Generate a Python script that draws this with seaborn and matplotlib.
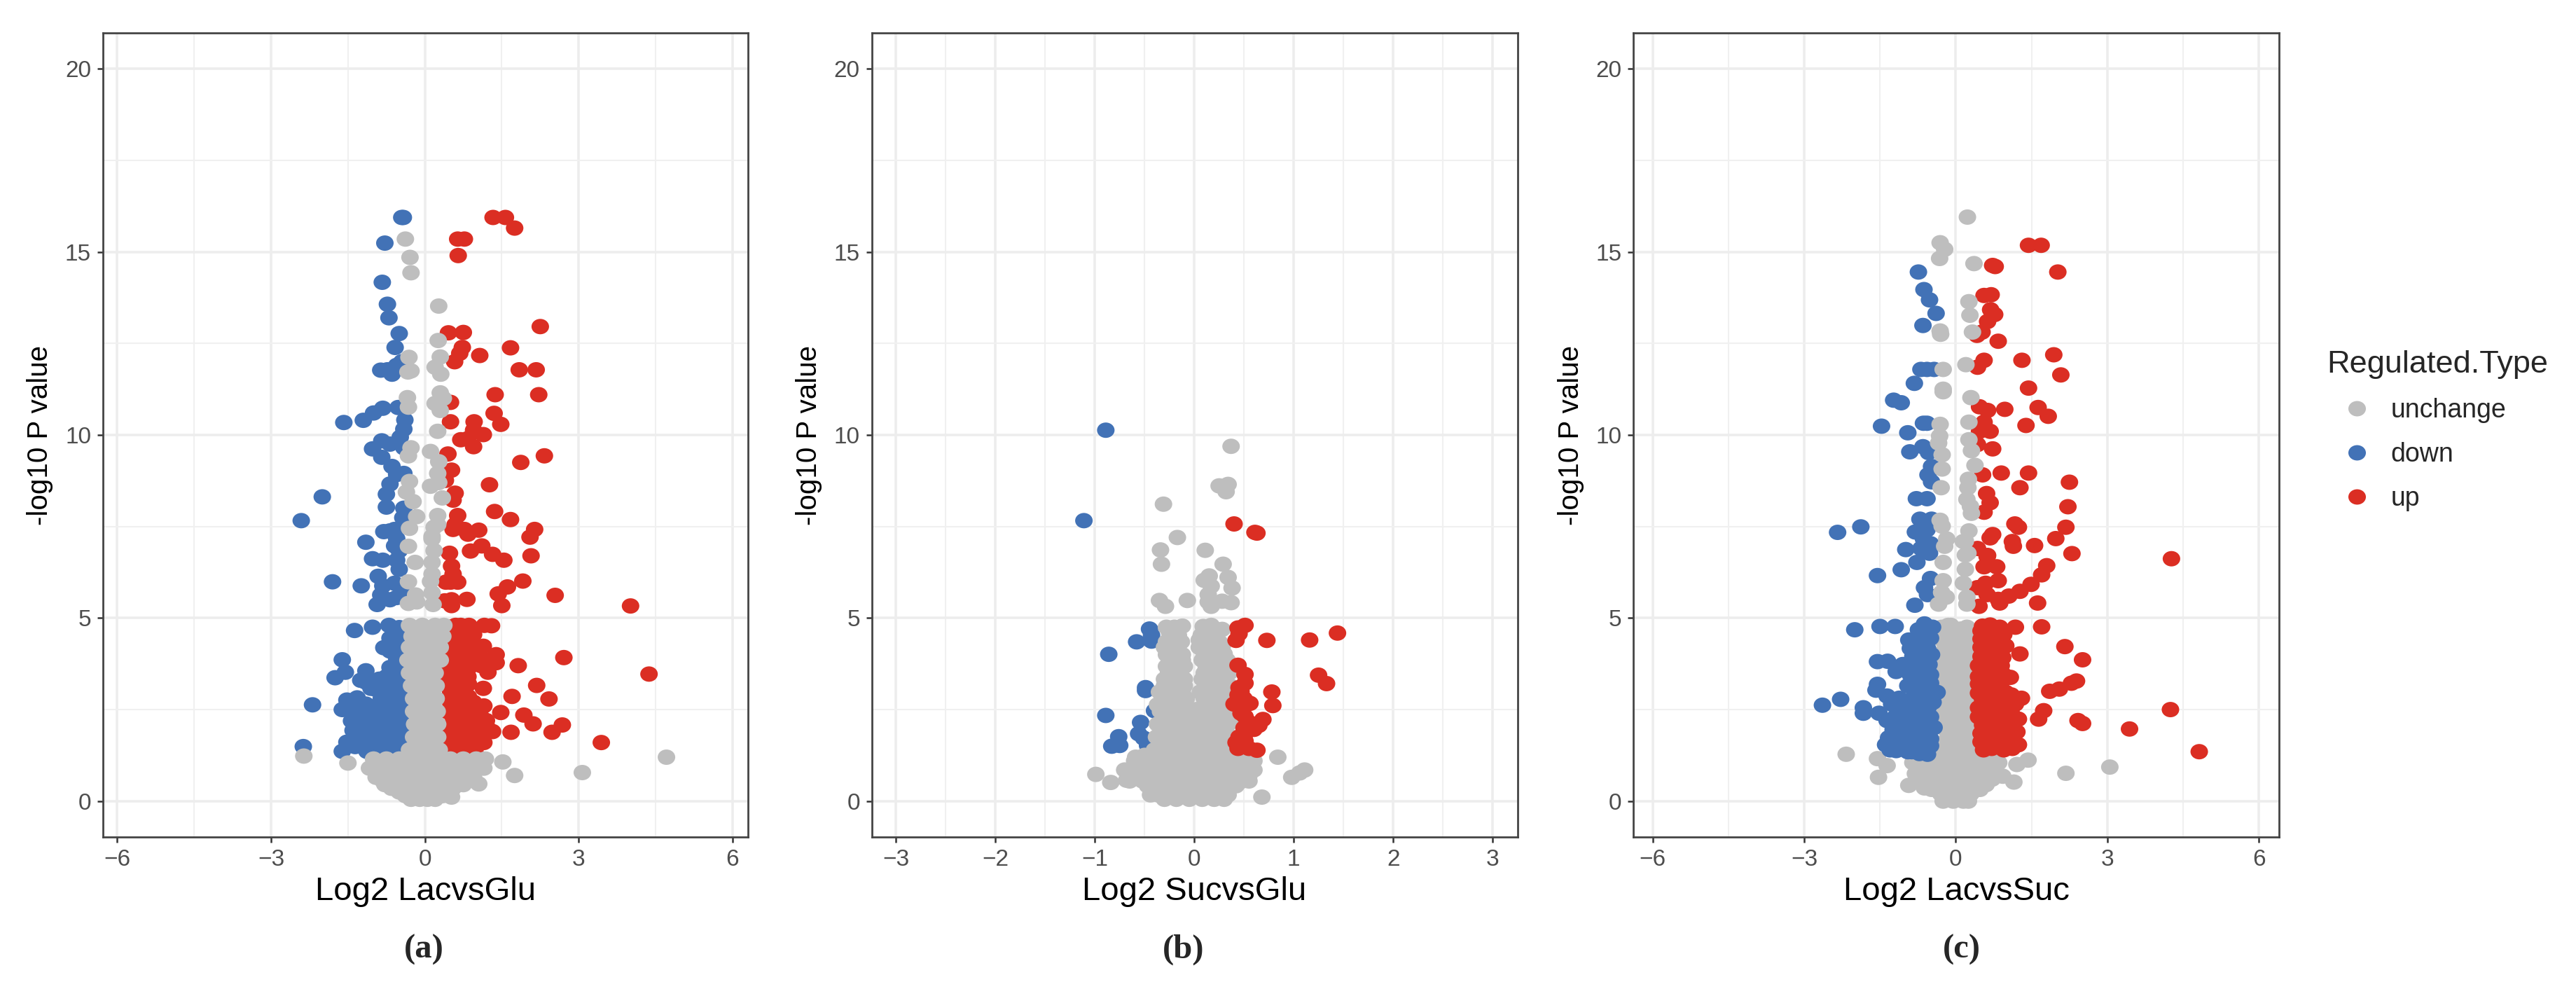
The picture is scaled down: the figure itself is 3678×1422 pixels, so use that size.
import matplotlib
matplotlib.use("Agg")
import matplotlib.pyplot as plt
import pandas as pd
import seaborn as sns
from matplotlib.markers import MarkerStyle
from matplotlib.transforms import Affine2D

# (log2 fold change, -log10 p), one list per group and panel
a_down = [(-.42,15.94),(-.45,15.94),(-.78,15.24),(-.83,14.17),(-.73,13.57),(-.70,13.2),(-.5,12.77),(-.58,12.39),
    (-.86,11.77),(-.73,11.78),(-.64,11.66),(-.55,11.9),(-.45,12.0),(-1.58,10.34),(-1.2,10.4),(-1.0,10.6),(-.82,10.73),
    (-.52,10.75),(-.39,10.41),(-.41,10.16),(-.48,9.94),(-.84,9.84),(-.68,9.75),(-1.02,9.62),(-.41,9.65),(-.84,9.39),
    (-.64,9.14),(-.41,8.95),(-.55,8.92),(-.68,8.66),(-.75,8.38),(-.75,8.03),(-.41,8.0),(-.43,7.74),(-.8,7.36),(-.59,7.42),
    (-.55,7.17),(-1.15,7.07),(-2.0,8.31),(-2.41,7.66),(-.68,7.38),(-.59,6.97),(-1.02,6.62),(-.82,6.58),(-.55,6.58),
    (-.5,6.84),(-.91,6.14),(-.5,6.33),(-1.8,5.99),(-1.24,5.88),(-.82,5.88),(-.59,5.95),(-.86,5.63),(-.45,5.69),(-.93,5.37),
    (-.68,5.5),(-.55,5.56),(-1.37,4.66),(-1.02,4.75),(-.7,4.8),(-.5,4.74),(-.55,4.54),(-.8,4.19),(-.68,4.1),(-.59,4.35),
    (-1.61,3.86),(-1.55,3.52),(-1.75,3.37),(-1.15,3.56),(-1.25,3.3),(-1.0,3.27),(-.89,3.33),(-.68,3.65),(-.5,3.49),
    (-.55,3.33),(-.41,3.05),(-1.05,3.08),(-.73,3.08),(-.57,2.95),(-2.19,2.63),(-1.52,2.76),(-1.61,2.5),(-1.32,2.82),
    (-1.27,2.5),(-1.0,2.5),(-.77,2.57),(-.45,2.5),(-1.43,2.19),(-1.2,2.25),(-.86,2.25),(-.59,2.31),(-.43,2.12),(-1.4,1.93),
    (-1.09,2.0),(-.73,1.93),(-.43,1.84),(-1.52,1.61),(-1.23,1.68),(-.95,1.68),(-.68,1.61),(-.5,1.61),(-1.61,1.36),
    (-1.13,1.36),(-1.36,1.49),(-.82,1.45),(-2.37,1.49),
    (-.68,4.45),(-.6,4.7),(-.48,4.45),(-.5,4.15),(-.55,3.9),(-.48,3.7),(-.6,3.55),(-.75,3.4),(-.6,3.15),(-.48,3.25),(-.85,3.1),
    (-.95,3.05),(-1.15,3.25),(-.85,2.8),(-.62,2.75),(-.48,2.75),(-1.45,2.5),(-1.15,2.65),(-1.15,2.4),(-.9,2.5),(-.6,2.55),
    (-1.3,2.2),(-1.05,2.25),(-.73,2.3),(-.5,2.25),(-1.3,1.95),(-1.2,2.0),(-.95,2.0),(-.85,1.95),(-.6,2.0),(-.5,1.95),
    (-1.35,1.75),(-1.1,1.8),(-.85,1.7),(-.6,1.75),(-1.2,1.5),(-1.0,1.45),(-.9,1.5),(-.6,1.4),(-.75,1.35)]
a_up = [(1.33,15.94),(1.57,15.94),(1.75,15.65),(.64,15.35),(.77,15.35),(.65,14.9),(2.25,12.96),(.46,12.79),(.75,12.8),
    (.73,12.39),(1.67,12.38),(1.07,12.17),(.68,12.23),(.58,12.0),(1.84,11.78),(2.17,11.78),(1.37,11.1),(2.22,11.1),
    (.5,10.89),(1.35,10.59),(1.48,10.29),(.5,10.36),(.96,10.36),(.95,10.13),(1.14,10.01),(.7,9.87),(.84,9.9),(.95,9.68),
    (.45,9.48),(2.33,9.43),(1.87,9.25),(.52,9.04),(1.26,8.64),(.4,8.76),(.59,8.41),(.55,8.22),(1.36,7.91),(1.67,7.69),
    (2.14,7.42),(2.05,7.21),(.64,7.8),(.59,7.55),(.77,7.42),(.84,7.29),(1.05,7.4),(.55,7.42),(.48,6.77),(.89,6.83),
    (1.11,6.97),(1.32,6.74),(1.54,6.58),(2.07,6.7),(.52,6.42),(.5,5.98),(.64,5.98),(.41,5.98),(.55,6.2),(.52,5.5),
    (.39,5.47),(.82,5.51),(.52,5.34),(1.91,6.01),(1.61,5.85),(1.43,5.66),(1.5,5.34),(2.54,5.62),(4.01,5.33),(.7,4.8),
    (.86,4.8),(1.16,4.8),(1.3,4.79),(.64,4.6),(.86,4.48),(.64,4.29),(1.14,4.23),(.57,3.97),(.82,3.97),(1.39,4.0),
    (1.39,3.78),(1.09,3.9),(.45,3.72),(.64,3.65),(.86,3.65),(1.23,3.52),(1.82,3.7),(.43,3.37),(.64,3.33),(.84,3.4),
    (1.14,3.08),(.5,3.01),(.77,3.01),(2.18,3.16),(1.7,2.86),(2.42,2.79),(.5,2.7),(.77,2.7),(1.05,2.57),(1.48,2.42),
    (.45,2.44),(.73,2.38),(1.09,2.31),(1.93,2.35),(2.11,2.11),(.55,2.12),(.82,2.06),(1.09,2.06),(1.32,1.9),(1.68,1.88),
    (2.48,1.88),(2.68,2.08),(.59,1.8),(.86,1.8),(1.14,1.8),(.5,1.48),(.73,1.48),(.98,1.42),(.89,1.33),(.64,1.36),
    (2.71,3.92),(4.37,3.47),(3.44,1.6),
    (.5,4.75),(.6,4.8),(.8,4.6),(.55,4.55),(.95,4.55),(.75,4.3),(.5,4.3),(.9,4.25),(1.0,4.1),(.65,4.05),(.5,4.0),(.75,3.85),
    (.95,3.75),(1.1,3.7),(1.25,3.85),(.55,3.5),(.75,3.55),(.5,3.2),(.72,3.2),(.6,3.0),(.85,3.2),(.5,2.9),(.65,2.85),(.85,2.85),
    (.95,2.7),(1.15,2.6),(.6,2.55),(.85,2.55),(.55,2.3),(.9,2.3),(1.2,2.2),(.7,2.15),(1.0,2.15),(.5,1.95),(.75,1.95),(1.0,1.95),
    (1.2,2.05),(.72,1.65),(.5,1.7),(.95,1.65),(1.15,1.6),(.85,1.5),(.6,1.55),(.45,1.55)]
a_unchange = [(-.38,15.35),(-.29,14.85),(-.27,14.43),(.27,13.52),(.26,12.58),(-.31,12.12),(.3,12.13),(-.27,11.75),(-.33,11.72),
    (.2,11.85),(.31,11.66),(-.34,11.02),(-.32,10.76),(.3,11.15),(.2,10.86),(.36,11.0),(.3,10.67),(.25,10.1),(.11,9.55),
    (-.27,9.65),(-.32,9.43),(.27,9.27),(.25,8.95),(-.3,8.73),(.11,8.6),(.27,8.7),(-.36,8.44),(-.23,8.18),(.34,8.28),
    (-.16,7.77),(.25,7.8),(-.3,7.45),(.18,7.48),(.25,7.55),(.14,7.23),(-.32,6.96),(-.19,6.52),(.14,7.16),(.18,6.84),
    (.14,6.52),(.14,6.2),(.11,6.0),(-.32,5.99),(-.18,5.63),(-.32,5.4),(-.16,5.44),(.16,5.37),(.14,5.69),
    (-.3,4.8),(-.05,4.8),(.2,4.8),(.37,4.8),(-.25,4.5),(0,4.5),(.25,4.5),(.35,4.5),(-.3,4.2),(0,4.2),(.3,4.2),
    (-.33,3.85),(0,3.85),(.3,3.85),(-.3,3.5),(0,3.5),(.2,3.5),(-.26,3.15),(0,3.15),(.22,3.15),(-.22,2.8),(0,2.8),(.22,2.8),
    (-.22,2.45),(0,2.45),(.24,2.45),(-.2,2.1),(0,2.1),(.25,2.1),(-.22,1.75),(0,1.75),(.25,1.75),(-.3,1.4),(0,1.4),(.28,1.4),
    (-1.0,1.15),(-.75,1.15),(-.5,1.15),(-.25,1.15),(0,1.15),(.25,1.15),(.5,1.15),(.75,1.15),(1.0,1.15),(1.18,1.15),
    (-1.08,.9),(-.8,.9),(-.55,.9),(-.3,.9),(-.05,.9),(.2,.9),(.45,.9),(.7,.9),(.95,.9),(1.15,.9),
    (-.95,.65),(-.7,.65),(-.45,.65),(-.2,.65),(.05,.65),(.3,.65),(.55,.65),(.8,.65),(.95,.65),
    (-.78,.45),(-.55,.45),(-.3,.45),(-.05,.45),(.2,.45),(.45,.45),(.65,.45),(.75,.45),
    (-.5,.25),(-.3,.25),(-.1,.25),(.1,.25),(.3,.25),(.45,.25),(-.27,.05),(-.1,.05),(.05,.05),(.2,.05),(.52,.11),
    (-2.36,1.23),(-1.5,1.04),(1.52,1.07),(1.75,.7),(1.05,.47),(3.07,.78),(4.71,1.2),
    (-.17,4.65),(.1,4.65),(.3,4.65),(-.15,4.35),(.15,4.35),(-.17,4.03),(.15,4.03),(-.18,3.68),(.15,3.68),(-.13,3.33),(.12,3.33),
    (-.11,2.98),(.12,2.98),(-.11,2.63),(.12,2.63),(-.1,2.28),(.13,2.28),(-.1,1.93),(.13,1.93),(-.12,1.58),(.14,1.58),
    (-.88,1.03),(-.62,1.03),(-.38,1.03),(-.12,1.03),(.12,1.03),(.38,1.03),(.62,1.03),(.88,1.03),(1.1,1.03),
    (-.94,.78),(-.68,.78),(-.42,.78),(-.18,.78),(.08,.78),(.32,.78),(.58,.78),(.82,.78),(-.82,.55),(-.58,.55),(-.32,.55),(-.08,.55),
    (.18,.55),(.42,.55),(.68,.55),(-.65,.35),(-.4,.35),(-.2,.35),(0,.35),(.2,.35),(.38,.35),(.55,.35),(-.38,.15),(-.2,.15),(-.02,.15),(.15,.15),(.35,.15)]

b_down = [(-.89,10.13),(-1.11,7.66),(-.45,4.7),(-.43,4.53),(-.58,4.35),(-.43,4.37),(-.86,4.01),(-.49,3.1),(-.49,3.02),(-.4,2.47),
    (-.89,2.34),(-.54,2.15),(-.56,1.84),(-.51,1.72),(-.47,1.52),(-.4,1.43),(-.76,1.76),(-.83,1.5),(-.75,1.52)]
b_up = [(.4,7.57),(.61,7.34),(.63,7.32),(.51,4.8),(.44,4.73),(.45,4.57),(.42,4.39),(.73,4.39),(1.16,4.4),(1.44,4.59),(.44,3.71),
    (.51,3.46),(1.25,3.44),(1.33,3.21),(.51,3.22),(.45,3.1),(.44,2.9),(.78,2.98),(.79,2.61),(.4,2.65),(.56,2.67),(.49,2.55),
    (.51,2.31),(.55,2.15),(.69,2.23),(.65,2.07),(.6,1.96),(.51,1.84),(.42,1.6),(.51,1.64),(.44,1.44),(.55,1.44),(.63,1.39),
    (.47,3.0),(.5,2.8),(.47,2.4),(.5,2.0),(.45,1.75),(.48,1.5)]
b_unchange = [(.37,9.69),(.25,8.61),(.34,8.65),(.32,8.45),(-.31,8.11),(-.17,7.2),(-.34,6.86),(-.33,6.47),(.11,6.85),(.29,6.47),
    (.15,6.15),(.1,6.03),(.34,6.11),(.17,5.87),(.38,5.82),(.14,5.64),(-.35,5.48),(-.29,5.32),(-.07,5.48),(.17,5.32),(.28,5.46),
    (.37,5.42),(.14,5.44),(-.28,4.75),(-.2,4.75),(-.12,4.78),(.09,4.77),(.17,4.8),(.28,4.69),(-.24,4.53),(-.16,4.53),(.07,4.53),
    (.22,4.53),(-.3,4.2),(-.2,4.2),(.05,4.2),(.15,4.2),(.28,4.2),(-.25,3.85),(-.12,3.85),(.08,3.85),(.2,3.85),(.33,3.85),
    (-.26,3.5),(-.14,3.5),(.1,3.5),(.22,3.5),(.35,3.5),(-.3,3.15),(-.17,3.15),(-.1,3.15),(.14,3.15),(.25,3.15),(.36,3.15),
    (-.32,2.8),(-.2,2.8),(-.08,2.8),(.1,2.8),(.2,2.8),(.34,2.8),(-.34,2.45),(-.2,2.45),(-.05,2.45),(.08,2.45),(.22,2.45),(.36,2.45),
    (-.37,2.1),(-.22,2.1),(-.08,2.1),(.07,2.1),(.2,2.1),(.34,2.1),(-.38,1.75),(-.25,1.75),(-.1,1.75),(0,1.75),(.1,1.75),(.25,1.75),(.37,1.75),
    (-.4,1.4),(-.27,1.4),(-.12,1.4),(0,1.4),(.13,1.4),(.28,1.4),(.36,1.4),
    (-.59,1.2),(-.6,1.1),(-.5,1.1),(-.38,1.1),(-.25,1.1),(-.12,1.1),(0,1.1),(.13,1.1),(.26,1.1),(.38,1.1),(.5,1.1),(.6,1.1),
    (-.7,.85),(-.6,.85),(-.48,.85),(-.35,.85),(-.22,.85),(-.1,.85),(.03,.85),(.15,.85),(.28,.85),(.4,.85),(.52,.85),(.6,.85),
    (-.65,.55),(-.52,.55),(-.4,.55),(-.27,.55),(-.14,.55),(0,.55),(.13,.55),(.26,.55),(.38,.55),(.48,.55),(.55,.55),
    (-.44,.17),(-.34,.3),(-.22,.3),(-.1,.3),(.03,.3),(.15,.3),(.28,.3),(.34,.3),(-.3,.05),(-.18,.05),(-.05,.05),(.08,.05),(.2,.05),(.3,.05),
    (-.99,.73),(-.84,.51),(-.68,.57),(.84,1.2),(.98,.65),(1.11,.85),(1.06,.77),(.68,.11),
    (-.25,4.62),(-.17,4.62),(.12,4.65),(.22,4.65),(.05,4.4),(.15,4.35),(.25,4.35),(-.28,4.35),(-.2,4.35),(-.13,4.35),(.1,4.05),(.2,4.02),(.3,4.02),
    (-.28,4.0),(-.2,4.0),(-.12,4.0),(-.2,3.68),(-.1,3.68),(-.28,3.68),(.12,3.68),(.25,3.68),(.34,3.68),(-.22,3.33),(-.1,3.33),(-.3,3.33),
    (.08,3.33),(.17,3.33),(.3,3.33),(-.25,2.98),(-.12,2.98),(-.35,2.98),(.06,2.98),(.15,2.98),(.28,2.98),(-.27,2.63),(-.13,2.63),(-.37,2.63),
    (.02,2.5),(.15,2.63),(.28,2.63),(-.3,2.28),(-.15,2.28),(0,2.2),(.13,2.28),(.27,2.28),(.38,2.28),(-.33,1.93),(-.18,1.93),(-.04,1.93),(.05,1.93),
    (.18,1.93),(.31,1.93),(-.33,1.58),(-.18,1.58),(-.05,1.58),(.07,1.58),(.2,1.58),(.32,1.58),
    (-.55,.98),(-.43,.98),(-.3,.98),(-.17,.98),(-.05,.98),(.08,.98),(.2,.98),(.33,.98),(.45,.98),(.55,.98),
    (-.6,.7),(-.45,.7),(-.3,.7),(-.17,.7),(-.05,.7),(.08,.7),(.2,.7),(.33,.7),(.45,.7),(.55,.7),
    (-.47,.42),(-.33,.42),(-.2,.42),(-.07,.42),(.07,.42),(.2,.42),(.33,.42),(.42,.42),
    (-.36,.17),(-.24,.17),(-.11,.17),(.02,.17),(.14,.17),(.26,.17),(.34,.17),
    (-.5,1.25),(-.38,1.25),(-.25,1.25),(-.12,1.25),(0,1.25),(.13,1.25),(.26,1.25),(.38,1.25),(.5,1.25)]

c_down = [(-.74,14.45),(-.63,13.97),(-.52,13.69),(-.39,13.32),(-.65,12.99),(-.69,11.79),(-.57,11.79),(-.43,11.79),(-.82,11.41),
    (-1.23,10.95),(-1.08,10.88),(-1.47,10.24),(-.95,10.06),(-.57,10.32),(-.64,10.32),(-.65,9.68),(-.91,9.54),(-.54,9.52),(-.48,9.14),
    (-.55,8.91),(-.48,8.72),(-.78,8.26),(-.57,8.26),(-.71,7.7),(-.48,7.7),(-1.88,7.49),(-2.34,7.34),(-.8,7.35),(-.57,7.41),(-.64,7.16),
    (-.5,7.03),(-.99,6.87),(-.69,6.9),(-.52,6.77),(-.77,6.52),(-.56,6.84),(-1.08,6.32),(-1.55,6.16),(-.5,6.08),(-.62,5.83),(-.56,5.64),
    (-.81,5.35),(-2.0,4.68),(-1.5,4.77),(-1.2,4.77),(-.62,4.84),(-.46,4.75),(-.74,4.68),(-.93,4.4),(-.62,4.43),(-.9,4.17),(-.56,4.17),
    (-.74,3.92),(-.53,3.73),(-1.55,3.81),(-1.35,3.82),(-1.18,3.54),(-1.05,3.73),(-.81,3.6),(-1.55,3.19),(-1.58,3.03),(-1.36,2.87),
    (-1.27,2.65),(-1.12,2.81),(-.81,3.28),(-.5,3.22),(-.81,2.97),(-.37,2.97),(-.62,2.84),(-2.28,2.78),(-2.64,2.62),(-1.83,2.55),(-1.83,2.4),
    (-1.52,2.4),(-1.36,2.2),(-1.05,2.52),(-.68,2.52),(-1.05,2.27),(-.68,2.27),(-.43,2.01),(-1.24,1.95),(-.93,1.95),(-.62,2.01),(-1.33,1.73),
    (-1.39,1.54),(-.99,1.7),(-.62,1.7),(-1.18,1.38),(-.87,1.35),(-.56,1.28),(-.5,1.51),
    (-.55,4.6),(-.75,4.4),(-.5,4.45),(-.75,4.15),(-.72,4.4),(-.48,4.0),(-.63,3.9),(-.85,3.95),(-.9,3.7),(-.7,3.7),(-.5,3.45),(-.65,3.45),(-.9,3.45),
    (-.65,3.15),(-.95,3.15),(-.75,3.0),(-.55,2.95),(-.9,2.75),(-.45,2.7),(-.85,2.6),(-.55,2.55),(-.95,2.35),(-.8,2.3),(-.5,2.3),(-1.2,2.3),(-1.2,2.1),
    (-1.05,2.05),(-.8,2.05),(-.5,1.95),(-1.1,1.75),(-.8,1.8),(-.5,1.7),(-1.25,1.55),(-1.05,1.5),(-.8,1.55),(-.65,1.45),(-1.3,1.4),(-.95,1.35),(-.72,1.3)]
c_up = [(1.44,15.18),(1.69,15.18),(.73,14.63),(.78,14.6),(2.02,14.45),(.56,13.81),(.7,13.83),(.69,13.42),(.77,13.29),(.63,13.1),
    (.52,12.81),(.42,12.72),(.84,12.56),(1.94,12.19),(1.31,12.04),(.56,12.04),(.43,11.85),(2.08,11.64),(1.44,11.28),(1.63,10.75),(1.83,10.51),
    (.97,10.7),(.47,10.77),(.63,10.67),(.56,10.35),(1.39,10.26),(.47,10.1),(.68,10.1),(.43,9.74),(.73,9.62),(.53,8.91),(.9,8.96),(1.44,8.96),
    (2.25,8.71),(1.27,8.56),(.61,8.4),(.68,8.15),(.56,7.89),(2.22,8.04),(1.17,7.57),(1.24,7.48),(2.18,7.48),(.73,7.28),(.68,7.19),(1.98,7.17),
    (1.12,7.09),(1.14,6.96),(1.56,6.98),(2.3,6.76),(.43,6.9),(.63,6.71),(4.27,6.62),(.62,6.68),(.56,6.4),(.81,6.4),(1.8,6.43),(1.7,6.18),
    (1.49,5.92),(1.27,5.73),(1.05,5.6),(.84,5.51),(.84,6.02),(.59,5.95),(.43,5.83),(.62,5.64),(1.62,5.41),(.87,5.41),(.46,5.32),(1.7,4.76),
    (1.18,4.75),(.68,4.81),(.53,4.78),(.87,4.75),(.5,4.43),(.81,4.49),(.99,4.24),(.62,4.17),(1.27,4.02),(2.16,4.22),(2.51,3.86),(.56,3.79),
    (.93,3.92),(.81,3.6),(.56,3.41),(1.08,3.38),(2.39,3.28),(2.29,3.22),(2.05,3.06),(1.86,3.0),(.5,3.09),(.81,3.09),(.99,2.97),(1.3,2.81),
    (.53,2.78),(.84,2.71),(1.18,2.65),(1.74,2.47),(1.64,2.24),(4.25,2.5),(.59,2.4),(.93,2.4),(1.24,2.24),(.53,2.08),(.87,2.05),(1.21,1.89),
    (2.42,2.2),(2.51,2.12),(3.44,1.97),(.62,1.76),(.99,1.7),(1.24,1.54),(.62,1.54),(1.12,1.44),(.71,1.44),(4.82,1.35),
    (.5,4.65),(.6,4.6),(.72,4.55),(.95,4.55),(.7,4.3),(.5,4.2),(.9,4.3),(.7,4.0),(.5,3.95),(.85,4.0),(.7,3.75),(.45,3.7),(.9,3.7),(.7,3.45),(.45,3.4),
    (.95,3.45),(.67,3.2),(.45,3.2),(.9,3.25),(.67,2.95),(.45,2.95),(.85,2.9),(1.1,2.9),(.67,2.65),(.45,2.55),(1.0,2.65),(.72,2.4),(1.1,2.4),(.45,2.3),
    (.7,2.2),(1.0,2.2),(.65,2.0),(1.05,2.0),(.75,1.85),(.9,1.9),(.5,1.85),(1.1,1.7),(.8,1.65),(.5,1.62),(1.05,1.55),(.95,1.4),(.55,1.4)]
c_unchange = [(-.28,4.75),(-.1,4.8),(.22,4.75),(-.27,4.4),(0,4.4),(.27,4.4),(-.28,4.05),(0,4.05),(.3,4.05),(-.3,3.7),(0,3.7),(.3,3.7),
    (-.3,3.35),(0,3.35),(.28,3.35),(-.25,3.0),(0,3.0),(.28,3.0),(-.3,2.65),(0,2.65),(.25,2.65),(-.28,2.3),(0,2.3),(.28,2.3),(-.2,1.95),(0,1.95),(.25,1.95),
    (-.25,1.6),(0,1.6),(.3,1.6),(-.4,1.3),(-.15,1.3),(.15,1.3),(.45,1.3),(-.85,1.05),(-.6,1.05),(-.35,1.05),(-.1,1.05),(.15,1.05),(.4,1.05),(.65,1.05),(.85,1.05),
    (-.8,.75),(-.55,.75),(-.3,.75),(-.05,.75),(.2,.75),(.45,.75),(.7,.75),(-.6,.45),(-.35,.45),(-.1,.45),(.15,.45),(.4,.45),(.6,.45),(-.3,.2),(-.1,.2),(.1,.2),(.3,.2),
    (-.25,0),(-.05,0),(.15,0),(.25,0),(-.93,.43),(-.62,.36),(1.15,.52),(.93,.68),(1.21,1.0),(1.43,1.12),(-2.17,1.28),(-1.55,1.16),(-1.36,.97),(-1.53,.65),(2.18,.76),(3.05,.93),
    (-.15,4.8),(.1,4.7),(-.15,4.55),(.12,4.55),(-.15,4.2),(.15,4.2),(-.15,3.87),(.15,3.87),(-.15,3.52),(.15,3.52),(-.13,3.17),(.15,3.17),(-.15,2.82),(.12,2.82),
    (-.15,2.47),(.12,2.47),(-.14,2.12),(.14,2.12),(-.1,1.77),(.12,1.77),(-.13,1.45),(.15,1.45),
    (-.72,1.2),(-.48,1.2),(-.25,1.2),(0,1.2),(.28,1.2),(.55,1.2),(.8,1.2),(-.72,.9),(-.47,.9),(-.22,.9),(.03,.9),(.28,.9),(.55,.9),(.78,.9),
    (-.68,.6),(-.45,.6),(-.2,.6),(.05,.6),(.3,.6),(.52,.6),(.72,.6),(-.48,.32),(-.2,.32),(0,.32),(.2,.32),(.48,.32),(-.15,.1),(.05,.1)]
# these sit on top of the coloured dots in the picture
c_unchange_top = [(-.31,15.25),(-.22,15.07),(-.32,14.82),(.23,15.95),(.36,14.68),(.26,13.64),(.28,13.27),(-.31,12.84),(-.3,12.75),(.33,12.81),
    (-.25,11.79),(.2,11.92),(-.25,11.25),(-.25,11.18),(.3,11.02),(.26,10.35),(-.31,10.29),(-.32,9.97),(-.34,9.78),(.26,9.87),(-.27,9.46),(.31,9.57),
    (.38,9.17),(-.27,9.07),(.25,8.79),(-.29,8.56),(.24,8.56),(.22,8.24),(.29,8.05),(.31,7.86),(-.31,7.67),(-.27,7.51),(-.18,7.16),(-.22,6.96),
    (.26,7.38),(.15,7.09),(.24,6.77),(-.25,6.52),(-.25,6.02),(-.28,5.7),(-.34,5.38),(-.19,5.57),(.19,7.1),(.19,6.72),(.19,6.33),(.15,5.95),(.22,5.38),(.22,5.57)]

a_xticks = [-6, -3, 0, 3, 6]
a_xminor = [-4.5, -1.5, 1.5, 4.5]
b_xticks = [-3, -2, -1, 0, 1, 2, 3]
b_xminor = [-2.5, -1.5, -.5, .5, 1.5, 2.5]
yticks = [0, 5, 10, 15, 20]
yminor = [2.5, 7.5, 12.5, 17.5]
levels = ["unchange", "down", "up"]

W, H = 3678, 1422
colors = {"unchange": "#BEBEBE", "down": "#4272B6", "up": "#DB2E23"}
dot = MarkerStyle("o", transform=Affine2D().scale(1.14, 1))

sns.set_theme(style="white")
plt.rcParams["font.family"] = ["Liberation Sans", "DejaVu Sans"]

fig = plt.figure(figsize=(W / 100, H / 100), dpi=100)


def panel(left, right, groups, xlim, xticks, xminor, xlabel, tag, tag_x, legend=False):
    ax = fig.add_axes([left / W, 1 - 1195 / H, (right - left) / W, (1195 - 47) / H])
    # draw order follows the list order, same as the data order in the original
    frames = []
    for pts, name in groups:
        frames.append(pd.DataFrame(pts, columns=["x", "y"]).assign(kind=name))
    df = pd.concat(frames, ignore_index=True)
    sns.scatterplot(data=df, x="x", y="y", hue="kind", hue_order=levels, palette=colors, s=250,
                    marker=dot, linewidth=0, ax=ax, legend=legend, zorder=3)
    ax.set_xlim(xlim)
    ax.set_ylim(-.98, 20.98)
    ax.set_xticks(xticks)
    ax.set_xticks(xminor, minor=True)
    ax.set_yticks(yticks)
    ax.set_yticks(yminor, minor=True)
    ax.grid(which="major", color="#EDEDED", lw=2.6, zorder=0)
    ax.grid(which="minor", color="#F0F0F0", lw=1.5, zorder=0)
    ax.set_axisbelow(True)
    ax.tick_params(which="major", length=6, width=1.8, color="#333333", labelcolor="#4D4D4D", labelsize=24,
                   bottom=True, left=True, pad=6)
    ax.tick_params(which="minor", length=0)
    for s in ax.spines.values():
        s.set_color("#444444")
        s.set_linewidth(2)
    ax.set_xlabel(xlabel, fontsize=34, color="black", labelpad=6)
    ax.set_ylabel("-log10 P value", fontsize=29, color="black", labelpad=12)
    fig.text(tag_x / W, 1 - 1356 / H, tag, family="Liberation Serif", weight="bold", fontsize=35, ha="center", va="center")
    return ax


panel(146.7, 1068, [(a_down, "down"), (a_up, "up"), (a_unchange, "unchange")], (-6.28, 6.3), a_xticks, a_xminor,
      "Log2 LacvsGlu", "(a)", 605)
panel(1244.5, 2166.6, [(b_down, "down"), (b_unchange, "unchange"), (b_up, "up")], (-3.245, 3.25), b_xticks, b_xminor,
      "Log2 SucvsGlu", "(b)", 1690)
ax3 = panel(2332, 3254, [(c_unchange, "unchange"), (c_down, "down"), (c_up, "up"), (c_unchange_top, "unchange")],
            (-6.385, 6.4), a_xticks, a_xminor, "Log2 LacvsSuc", "(c)", 2801, legend=True)

sns.move_legend(ax3, "upper left", bbox_to_anchor=(3322 / W, 1 - 500 / H), bbox_transform=fig.transFigure, title="Regulated.Type",
                frameon=False, fontsize=27, title_fontsize=32.5, alignment="left", labelspacing=.72, handletextpad=.16,
                handlelength=2.27, borderpad=0, borderaxespad=0)

fig.savefig("out.png", dpi=100)
